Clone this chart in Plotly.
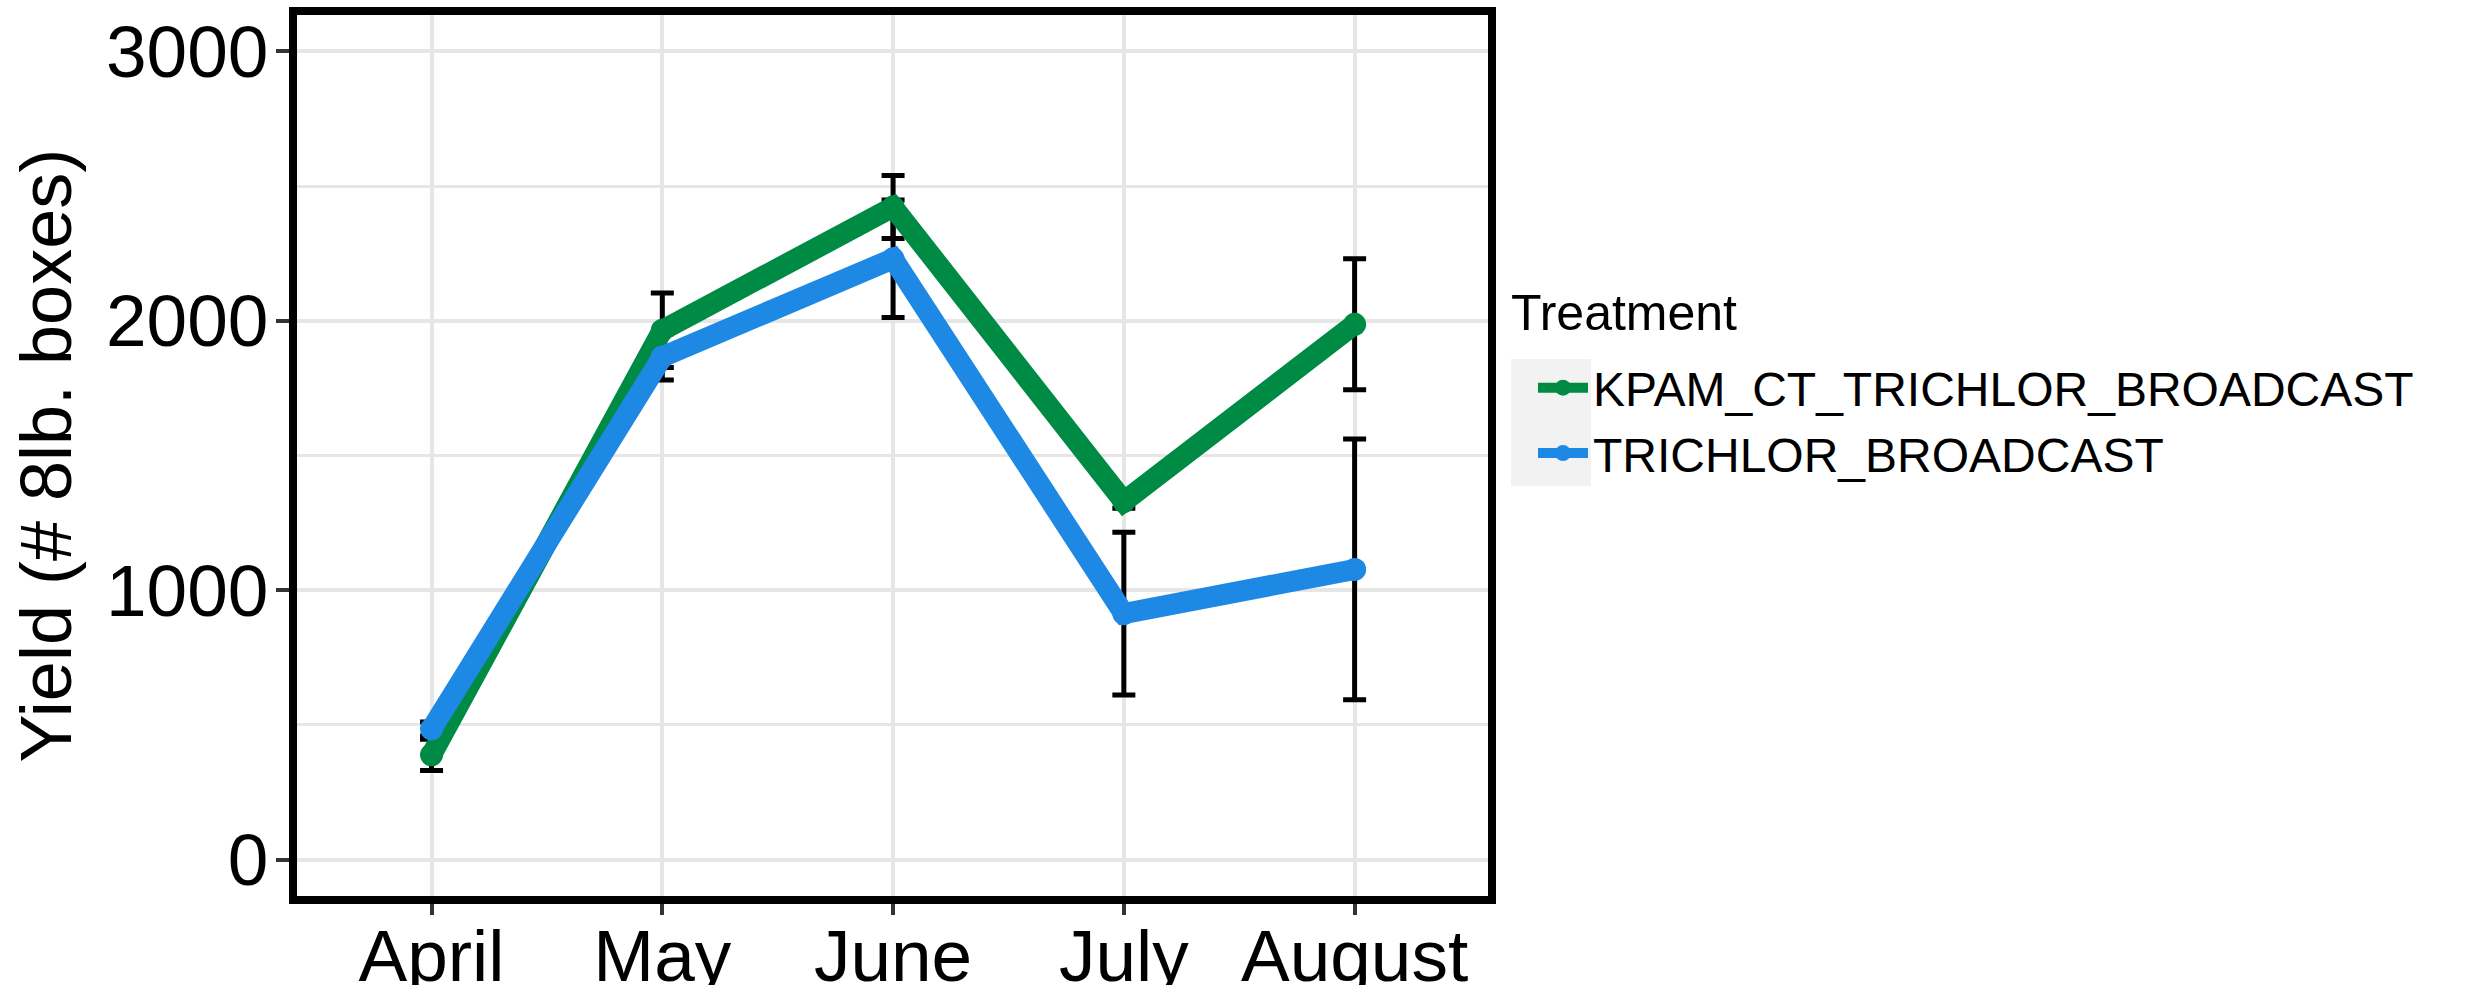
import plotly.graph_objects as go

months = ["April", "May", "June", "July", "August"]
series_names = ["KPAM_CT_TRICHLOR_BROADCAST", "TRICHLOR_BROADCAST"]
kpam_mean = [389, 1965, 2422, 1329, 1987]
kpam_se = [58, 138, 117, 25, 243]
tri_mean = [485, 1866, 2230, 913, 1077]
tri_se = [26, 86, 218, 302, 484]

colors = ["#008B45", "#1E88E5"]
FONT = "Liberation Sans, Arial, Helvetica, sans-serif"

W, H = 2469, 985
L, R, T, B = 297, 981, 15, 89
pw, ph = W - L - R, H - T - B

def px_x(p):
    return (p - L) / pw

def px_y(p):
    return (H - B - p) / ph

fig = go.Figure()

means = [kpam_mean, tri_mean]
ses = [kpam_se, tri_se]

# error bars first (drawn underneath the lines, as in the reference)
for m, s in zip(means, ses):
    fig.add_trace(go.Scatter(
        x=months, y=m, mode="markers",
        marker=dict(size=1, color="rgba(0,0,0,0)"),
        error_y=dict(type="data", array=s, symmetric=True, color="black",
                     thickness=5, width=11.5),
        showlegend=False, hoverinfo="skip",
    ))

for name, m, c in zip(series_names, means, colors):
    fig.add_trace(go.Scatter(
        x=months, y=m, mode="lines+markers", name=name,
        line=dict(color=c, width=21),
        marker=dict(color=c, size=23),
    ))

grid = "#E6E6E6"
fig.update_layout(
    width=W, height=H,
    margin=dict(l=L, r=R, t=T, b=B, pad=0),
    paper_bgcolor="white", plot_bgcolor="white",
    font=dict(family=FONT, color="black"),
    showlegend=True,
    legend=dict(
        font=dict(size=48, family=FONT, color="black"),
        x=px_x(1533), xanchor="left", xref="paper",
        y=px_y(350), yanchor="top", yref="paper",
        bgcolor="rgba(0,0,0,0)", itemwidth=50,
    ),
    xaxis=dict(
        type="category", categoryorder="array", categoryarray=months,
        range=[-0.583, 4.578],
        showgrid=True, gridcolor=grid, gridwidth=4,
        showline=True, linecolor="black", linewidth=8, mirror=True,
        ticks="outside", ticklen=11, tickwidth=4, tickcolor="#333333",
        tickfont=dict(size=73, family=FONT, color="black"),
        ticklabelstandoff=-22,
        automargin=False, zeroline=False,
    ),
    yaxis=dict(
        range=[-135, 3135],
        tickmode="array", tickvals=[0, 1000, 2000, 3000],
        showgrid=True, gridcolor=grid, gridwidth=4,
        minor=dict(tickvals=[500, 1500, 2500], showgrid=True, gridcolor=grid, gridwidth=2.5, ticks=""),
        showline=True, linecolor="black", linewidth=8, mirror=True,
        ticks="outside", ticklen=13, tickwidth=4, tickcolor="#333333",
        tickfont=dict(size=73, family=FONT, color="black"),
        ticklabelstandoff=-7,
        automargin=False, zeroline=False,
    ),
    annotations=[
        dict(
            text="Yield (# 8lb. boxes)", textangle=-90,
            x=px_x(45), y=0.5, xref="paper", yref="paper",
            xanchor="center", yanchor="middle", showarrow=False,
            font=dict(size=72, family=FONT, color="black"),
        ),
        dict(
            text="Treatment",
            x=px_x(1509), y=px_y(313), xref="paper", yref="paper",
            xanchor="left", yanchor="middle", showarrow=False,
            font=dict(size=50, family=FONT, color="black"),
        ),
    ],
    shapes=[dict(
        type="rect", xref="paper", yref="paper",
        x0=px_x(1511), x1=px_x(1591), y0=px_y(486), y1=px_y(359),
        fillcolor="#F2F2F2", line=dict(width=0), layer="below",
    )],
)

fig.write_html(
    "out.html",
    config={"displayModeBar": False},
    post_script="document.body.style.margin='0';document.body.style.overflow='hidden';",
)
